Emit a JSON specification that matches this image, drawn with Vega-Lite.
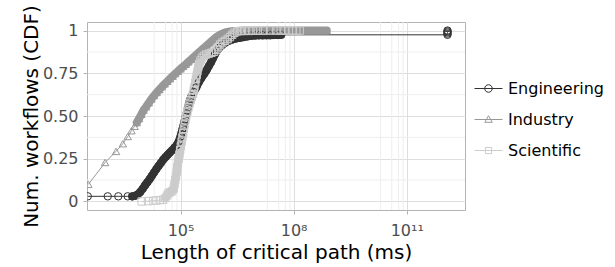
{
  "$schema": "https://vega.github.io/schema/vega-lite/v6.json",
  "autosize": "none",
  "width": 378,
  "height": 188,
  "padding": {"left": 87, "top": 22, "right": 150, "bottom": 57},
  "config": {
    "font": "DejaVu Sans",
    "view": {"stroke": "#b3b3b3", "strokeWidth": 1},
    "axis": {
      "domain": false,
      "gridColor": "#dedede",
      "gridWidth": 1,
      "tickColor": "#b3b3b3",
      "tickSize": 4,
      "labelFontSize": 16,
      "labelColor": "#4d4d4d",
      "titleFontSize": 20,
      "titleFontWeight": "normal",
      "titleColor": "#000000"
    }
  },
  "datasets": {
    "cdf": [
      {"s": "Engineering", "x": 347, "y": 0.03},
      {"s": "Engineering", "x": 1175, "y": 0.03},
      {"s": "Engineering", "x": 2239, "y": 0.03},
      {"s": "Engineering", "x": 3981, "y": 0.03},
      {"s": "Engineering", "x": 5248, "y": 0.03},
      {"s": "Engineering", "x": 6166, "y": 0.033},
      {"s": "Engineering", "x": 7244, "y": 0.04},
      {"s": "Engineering", "x": 8511, "y": 0.055},
      {"s": "Engineering", "x": 10000, "y": 0.075},
      {"s": "Engineering", "x": 11480, "y": 0.095},
      {"s": "Engineering", "x": 13180, "y": 0.112},
      {"s": "Engineering", "x": 15140, "y": 0.13},
      {"s": "Engineering", "x": 17380, "y": 0.15},
      {"s": "Engineering", "x": 19950, "y": 0.17},
      {"s": "Engineering", "x": 22910, "y": 0.19},
      {"s": "Engineering", "x": 26300, "y": 0.208},
      {"s": "Engineering", "x": 30200, "y": 0.226},
      {"s": "Engineering", "x": 34670, "y": 0.244},
      {"s": "Engineering", "x": 39810, "y": 0.259},
      {"s": "Engineering", "x": 45710, "y": 0.273},
      {"s": "Engineering", "x": 52480, "y": 0.287},
      {"s": "Engineering", "x": 60260, "y": 0.3},
      {"s": "Engineering", "x": 69180, "y": 0.315},
      {"s": "Engineering", "x": 79430, "y": 0.33},
      {"s": "Engineering", "x": 89130, "y": 0.35},
      {"s": "Engineering", "x": 100000, "y": 0.38},
      {"s": "Engineering", "x": 104700, "y": 0.395},
      {"s": "Engineering", "x": 109600, "y": 0.41},
      {"s": "Engineering", "x": 114800, "y": 0.428},
      {"s": "Engineering", "x": 120200, "y": 0.445},
      {"s": "Engineering", "x": 125900, "y": 0.462},
      {"s": "Engineering", "x": 131800, "y": 0.48},
      {"s": "Engineering", "x": 138000, "y": 0.498},
      {"s": "Engineering", "x": 144500, "y": 0.515},
      {"s": "Engineering", "x": 151400, "y": 0.532},
      {"s": "Engineering", "x": 158500, "y": 0.55},
      {"s": "Engineering", "x": 166000, "y": 0.568},
      {"s": "Engineering", "x": 173800, "y": 0.585},
      {"s": "Engineering", "x": 184100, "y": 0.6},
      {"s": "Engineering", "x": 195000, "y": 0.615},
      {"s": "Engineering", "x": 223900, "y": 0.64},
      {"s": "Engineering", "x": 263000, "y": 0.668},
      {"s": "Engineering", "x": 309000, "y": 0.7},
      {"s": "Engineering", "x": 363100, "y": 0.725},
      {"s": "Engineering", "x": 426600, "y": 0.747},
      {"s": "Engineering", "x": 489800, "y": 0.768},
      {"s": "Engineering", "x": 562300, "y": 0.792},
      {"s": "Engineering", "x": 645700, "y": 0.815},
      {"s": "Engineering", "x": 724400, "y": 0.838},
      {"s": "Engineering", "x": 812800, "y": 0.86},
      {"s": "Engineering", "x": 912000, "y": 0.88},
      {"s": "Engineering", "x": 1072000, "y": 0.9},
      {"s": "Engineering", "x": 1259000, "y": 0.915},
      {"s": "Engineering", "x": 1514000, "y": 0.928},
      {"s": "Engineering", "x": 1905000, "y": 0.94},
      {"s": "Engineering", "x": 2399000, "y": 0.948},
      {"s": "Engineering", "x": 3020000, "y": 0.954},
      {"s": "Engineering", "x": 3802000, "y": 0.958},
      {"s": "Engineering", "x": 4786000, "y": 0.962},
      {"s": "Engineering", "x": 6026000, "y": 0.966},
      {"s": "Engineering", "x": 7586000, "y": 0.969},
      {"s": "Engineering", "x": 9550000, "y": 0.971},
      {"s": "Engineering", "x": 12020000, "y": 0.972},
      {"s": "Engineering", "x": 15140000, "y": 0.972},
      {"s": "Engineering", "x": 19050000, "y": 0.973},
      {"s": "Engineering", "x": 23990000, "y": 0.973},
      {"s": "Engineering", "x": 30200000, "y": 0.974},
      {"s": "Engineering", "x": 38020000, "y": 0.974},
      {"s": "Engineering", "x": 46770000, "y": 0.975},
      {"s": "Engineering", "x": 1202000000000, "y": 0.975},
      {"s": "Engineering", "x": 1202000000000, "y": 0.982},
      {"s": "Engineering", "x": 1202000000000, "y": 0.989},
      {"s": "Engineering", "x": 1202000000000, "y": 0.995},
      {"s": "Engineering", "x": 1202000000000, "y": 1.0},
      {"s": "Industry", "x": 360, "y": 0.1},
      {"s": "Industry", "x": 1000, "y": 0.228},
      {"s": "Industry", "x": 1950, "y": 0.293},
      {"s": "Industry", "x": 2951, "y": 0.338},
      {"s": "Industry", "x": 3981, "y": 0.38},
      {"s": "Industry", "x": 5012, "y": 0.414},
      {"s": "Industry", "x": 6026, "y": 0.44},
      {"s": "Industry", "x": 6918, "y": 0.462},
      {"s": "Industry", "x": 7943, "y": 0.485},
      {"s": "Industry", "x": 9120, "y": 0.51},
      {"s": "Industry", "x": 10470, "y": 0.535},
      {"s": "Industry", "x": 12300, "y": 0.555},
      {"s": "Industry", "x": 14450, "y": 0.578},
      {"s": "Industry", "x": 16980, "y": 0.6},
      {"s": "Industry", "x": 19950, "y": 0.62},
      {"s": "Industry", "x": 23440, "y": 0.638},
      {"s": "Industry", "x": 27540, "y": 0.655},
      {"s": "Industry", "x": 32360, "y": 0.672},
      {"s": "Industry", "x": 38020, "y": 0.688},
      {"s": "Industry", "x": 44670, "y": 0.703},
      {"s": "Industry", "x": 52480, "y": 0.718},
      {"s": "Industry", "x": 61660, "y": 0.733},
      {"s": "Industry", "x": 72440, "y": 0.748},
      {"s": "Industry", "x": 85110, "y": 0.762},
      {"s": "Industry", "x": 100000, "y": 0.776},
      {"s": "Industry", "x": 117500, "y": 0.79},
      {"s": "Industry", "x": 138000, "y": 0.803},
      {"s": "Industry", "x": 162200, "y": 0.817},
      {"s": "Industry", "x": 190500, "y": 0.831},
      {"s": "Industry", "x": 223900, "y": 0.845},
      {"s": "Industry", "x": 263000, "y": 0.859},
      {"s": "Industry", "x": 309000, "y": 0.873},
      {"s": "Industry", "x": 363100, "y": 0.887},
      {"s": "Industry", "x": 426600, "y": 0.9},
      {"s": "Industry", "x": 501200, "y": 0.914},
      {"s": "Industry", "x": 588800, "y": 0.928},
      {"s": "Industry", "x": 691800, "y": 0.942},
      {"s": "Industry", "x": 812800, "y": 0.955},
      {"s": "Industry", "x": 955000, "y": 0.967},
      {"s": "Industry", "x": 1148000, "y": 0.977},
      {"s": "Industry", "x": 1380000, "y": 0.985},
      {"s": "Industry", "x": 1660000, "y": 0.991},
      {"s": "Industry", "x": 2042000, "y": 0.995},
      {"s": "Industry", "x": 2512000, "y": 0.997},
      {"s": "Industry", "x": 3090000, "y": 0.998},
      {"s": "Industry", "x": 3802000, "y": 0.999},
      {"s": "Industry", "x": 4786000, "y": 1.0},
      {"s": "Industry", "x": 6026000, "y": 1.0},
      {"s": "Industry", "x": 7586000, "y": 1.0},
      {"s": "Industry", "x": 9550000, "y": 1.0},
      {"s": "Industry", "x": 12020000, "y": 1.0},
      {"s": "Industry", "x": 15140000, "y": 1.0},
      {"s": "Industry", "x": 19050000, "y": 1.0},
      {"s": "Industry", "x": 23990000, "y": 1.0},
      {"s": "Industry", "x": 30200000, "y": 1.0},
      {"s": "Industry", "x": 38020000, "y": 1.0},
      {"s": "Industry", "x": 47860000, "y": 1.0},
      {"s": "Industry", "x": 60260000, "y": 1.0},
      {"s": "Industry", "x": 75860000, "y": 1.0},
      {"s": "Industry", "x": 95500000, "y": 1.0},
      {"s": "Industry", "x": 120200000, "y": 1.0},
      {"s": "Industry", "x": 151400000, "y": 1.0},
      {"s": "Industry", "x": 190500000, "y": 1.0},
      {"s": "Industry", "x": 239900000, "y": 1.0},
      {"s": "Industry", "x": 302000000, "y": 1.0},
      {"s": "Industry", "x": 380200000, "y": 1.0},
      {"s": "Industry", "x": 478600000, "y": 1.0},
      {"s": "Industry", "x": 602600000, "y": 1.0},
      {"s": "Industry", "x": 758600000, "y": 1.0},
      {"s": "Scientific", "x": 9333, "y": 0.0},
      {"s": "Scientific", "x": 13800, "y": 0.002},
      {"s": "Scientific", "x": 19050, "y": 0.004},
      {"s": "Scientific", "x": 22910, "y": 0.006},
      {"s": "Scientific", "x": 28180, "y": 0.008},
      {"s": "Scientific", "x": 34670, "y": 0.01},
      {"s": "Scientific", "x": 39810, "y": 0.02},
      {"s": "Scientific", "x": 43650, "y": 0.035},
      {"s": "Scientific", "x": 47860, "y": 0.048},
      {"s": "Scientific", "x": 53700, "y": 0.055},
      {"s": "Scientific", "x": 60260, "y": 0.06},
      {"s": "Scientific", "x": 66070, "y": 0.075},
      {"s": "Scientific", "x": 69180, "y": 0.1},
      {"s": "Scientific", "x": 72440, "y": 0.125},
      {"s": "Scientific", "x": 75860, "y": 0.15},
      {"s": "Scientific", "x": 79430, "y": 0.175},
      {"s": "Scientific", "x": 81280, "y": 0.2},
      {"s": "Scientific", "x": 85110, "y": 0.225},
      {"s": "Scientific", "x": 89130, "y": 0.25},
      {"s": "Scientific", "x": 93330, "y": 0.275},
      {"s": "Scientific", "x": 97720, "y": 0.3},
      {"s": "Scientific", "x": 102300, "y": 0.325},
      {"s": "Scientific", "x": 107200, "y": 0.35},
      {"s": "Scientific", "x": 112200, "y": 0.375},
      {"s": "Scientific", "x": 117500, "y": 0.4},
      {"s": "Scientific", "x": 123000, "y": 0.425},
      {"s": "Scientific", "x": 128800, "y": 0.45},
      {"s": "Scientific", "x": 134900, "y": 0.475},
      {"s": "Scientific", "x": 141300, "y": 0.5},
      {"s": "Scientific", "x": 151400, "y": 0.525},
      {"s": "Scientific", "x": 162200, "y": 0.55},
      {"s": "Scientific", "x": 173800, "y": 0.572},
      {"s": "Scientific", "x": 186200, "y": 0.592},
      {"s": "Scientific", "x": 199500, "y": 0.61},
      {"s": "Scientific", "x": 213800, "y": 0.628},
      {"s": "Scientific", "x": 223900, "y": 0.65},
      {"s": "Scientific", "x": 234400, "y": 0.672},
      {"s": "Scientific", "x": 245500, "y": 0.695},
      {"s": "Scientific", "x": 257000, "y": 0.718},
      {"s": "Scientific", "x": 269200, "y": 0.74},
      {"s": "Scientific", "x": 281800, "y": 0.762},
      {"s": "Scientific", "x": 295100, "y": 0.784},
      {"s": "Scientific", "x": 316200, "y": 0.806},
      {"s": "Scientific", "x": 338800, "y": 0.825},
      {"s": "Scientific", "x": 371500, "y": 0.84},
      {"s": "Scientific", "x": 416900, "y": 0.852},
      {"s": "Scientific", "x": 478600, "y": 0.86},
      {"s": "Scientific", "x": 562300, "y": 0.865},
      {"s": "Scientific", "x": 660700, "y": 0.87},
      {"s": "Scientific", "x": 776200, "y": 0.876},
      {"s": "Scientific", "x": 891300, "y": 0.888},
      {"s": "Scientific", "x": 1000000, "y": 0.903},
      {"s": "Scientific", "x": 1122000, "y": 0.918},
      {"s": "Scientific", "x": 1288000, "y": 0.93},
      {"s": "Scientific", "x": 1514000, "y": 0.94},
      {"s": "Scientific", "x": 1778000, "y": 0.95},
      {"s": "Scientific", "x": 2042000, "y": 0.962},
      {"s": "Scientific", "x": 2344000, "y": 0.975},
      {"s": "Scientific", "x": 2692000, "y": 0.987},
      {"s": "Scientific", "x": 3162000, "y": 0.995},
      {"s": "Scientific", "x": 3981000, "y": 0.997},
      {"s": "Scientific", "x": 5012000, "y": 0.998},
      {"s": "Scientific", "x": 6607000, "y": 0.998},
      {"s": "Scientific", "x": 8318000, "y": 0.999},
      {"s": "Scientific", "x": 11220000, "y": 0.999},
      {"s": "Scientific", "x": 15850000, "y": 0.999},
      {"s": "Scientific", "x": 23990000, "y": 1.0},
      {"s": "Scientific", "x": 34670000, "y": 1.0},
      {"s": "Scientific", "x": 45710000, "y": 1.0},
      {"s": "Scientific", "x": 57540000, "y": 1.0},
      {"s": "Scientific", "x": 74130000, "y": 1.0},
      {"s": "Scientific", "x": 95500000, "y": 1.0},
      {"s": "Scientific", "x": 117500000, "y": 1.0},
      {"s": "Scientific", "x": 144500000, "y": 1.0}
    ],
    "leg": [
      {"s": "Engineering", "x": 100000, "y": 0.5},
      {"s": "Industry", "x": 100000, "y": 0.5},
      {"s": "Scientific", "x": 100000, "y": 0.5}
    ],
    "minorx": [
      {"v": 20000}, {"v": 40000}, {"v": 60000}, {"v": 80000},
      {"v": 20000000}, {"v": 40000000}, {"v": 60000000}, {"v": 80000000},
      {"v": 20000000000}, {"v": 40000000000}, {"v": 60000000000}, {"v": 80000000000}
    ],
    "minory": [
      {"v": 0.125}, {"v": 0.375}, {"v": 0.625}, {"v": 0.875}
    ]
  },
  "layer": [
    {
      "data": {"name": "minorx"},
      "mark": {"type": "rule", "color": "#eeeeee", "strokeWidth": 1},
      "encoding": {
        "x": {"field": "v", "type": "quantitative", "scale": {"type": "log", "domain": [331, 3500000000000], "nice": false}}
      }
    },
    {
      "data": {"name": "minory"},
      "mark": {"type": "rule", "color": "#eeeeee", "strokeWidth": 1},
      "encoding": {
        "y": {"field": "v", "type": "quantitative", "scale": {"domain": [-0.05, 1.05], "nice": false, "zero": false}}
      }
    },
    {
      "data": {"name": "cdf"},
      "mark": {"type": "line", "strokeWidth": 1, "clip": true},
      "encoding": {
        "x": {"field": "x", "type": "quantitative"},
        "y": {"field": "y", "type": "quantitative"},
        "color": {"field": "s", "type": "nominal"}
      }
    },
    {
      "data": {"name": "cdf"},
      "transform": [
        {"filter": "(datum.s == 'Engineering' && datum.x >= 5000 && datum.x < 100000000) || (datum.s == 'Industry' && datum.x >= 6900) || (datum.s == 'Scientific' && datum.x >= 39000 && datum.x <= 4000000)"}
      ],
      "mark": {"type": "line", "strokeWidth": 8, "strokeCap": "round", "strokeJoin": "round", "clip": true},
      "encoding": {
        "x": {"field": "x", "type": "quantitative"},
        "y": {"field": "y", "type": "quantitative"},
        "color": {"field": "s", "type": "nominal"}
      }
    },
    {
      "data": {"name": "cdf"},
      "transform": [{"filter": "datum.s == 'Engineering'"}],
      "mark": {"type": "point", "shape": "circle", "filled": false, "size": 55, "strokeWidth": 1, "opacity": 1, "clip": true},
      "encoding": {
        "x": {
          "field": "x", "type": "quantitative",
          "axis": {
            "values": [100000, 100000000, 100000000000],
            "labelExpr": "datum.value == 100000 ? '10⁵' : datum.value == 100000000 ? '10⁸' : '10¹¹'",
            "labelPadding": 8,
            "titlePadding": 4,
            "title": "Length of critical path (ms)"
          }
        },
        "y": {
          "field": "y", "type": "quantitative",
          "axis": {
            "values": [0, 0.25, 0.5, 0.75, 1],
            "labelExpr": "datum.value == 0 ? '0' : datum.value == 1 ? '1' : format(datum.value, '.2f')",
            "labelPadding": 5,
            "titlePadding": 1,
            "title": "Num. workflows (CDF)"
          }
        },
        "color": {
          "field": "s", "type": "nominal",
          "scale": {"domain": ["Engineering", "Industry", "Scientific"], "range": ["#333333", "#989898", "#cccccc"]}
        }
      }
    },
    {
      "data": {"name": "cdf"},
      "transform": [{"filter": "datum.s == 'Industry'"}],
      "mark": {"type": "point", "shape": "triangle-up", "filled": false, "size": 55, "strokeWidth": 1, "opacity": 1, "clip": true},
      "encoding": {
        "x": {"field": "x", "type": "quantitative"},
        "y": {"field": "y", "type": "quantitative"},
        "color": {"field": "s", "type": "nominal"}
      }
    },
    {
      "data": {"name": "cdf"},
      "transform": [{"filter": "datum.s == 'Scientific'"}],
      "mark": {"type": "point", "shape": "square", "filled": false, "size": 55, "strokeWidth": 1, "opacity": 1, "clip": true},
      "encoding": {
        "x": {"field": "x", "type": "quantitative"},
        "y": {"field": "y", "type": "quantitative"},
        "color": {"field": "s", "type": "nominal"}
      }
    },
    {
      "data": {"name": "leg"},
      "mark": {"type": "point", "filled": false, "opacity": 0, "size": 784, "strokeWidth": 1},
      "encoding": {
        "x": {"field": "x", "type": "quantitative"},
        "y": {"field": "y", "type": "quantitative"},
        "color": {
          "field": "s", "type": "nominal",
          "legend": {
            "title": null,
            "orient": "none",
            "legendX": 387,
            "legendY": 52.5,
            "labelFontSize": 16,
            "labelColor": "#000000",
            "labelOffset": 5,
            "rowPadding": 3,
            "clipHeight": 28,
            "padding": 0,
            "symbolSize": 784,
            "symbolOpacity": 1,
            "symbolStrokeWidth": 1,
            "symbolFillColor": "transparent"
          }
        },
        "shape": {
          "field": "s", "type": "nominal",
          "scale": {
            "domain": ["Engineering", "Industry", "Scientific"],
            "range": [
              "M-1,0H1M0.27,0A0.27,0.27,0,1,1,-0.27,0A0.27,0.27,0,1,1,0.27,0",
              "M-1,0H1M0,-0.27L0.27,0.2L-0.27,0.2Z",
              "M-1,0H1M-0.22,-0.22H0.22V0.22H-0.22Z"
            ]
          },
          "legend": {
            "title": null,
            "orient": "none",
            "legendX": 387,
            "legendY": 52.5,
            "labelFontSize": 16,
            "labelColor": "#000000",
            "labelOffset": 5,
            "rowPadding": 3,
            "clipHeight": 28,
            "padding": 0,
            "symbolSize": 784,
            "symbolOpacity": 1,
            "symbolStrokeWidth": 1,
            "symbolFillColor": "transparent"
          }
        }
      }
    }
  ]
}
